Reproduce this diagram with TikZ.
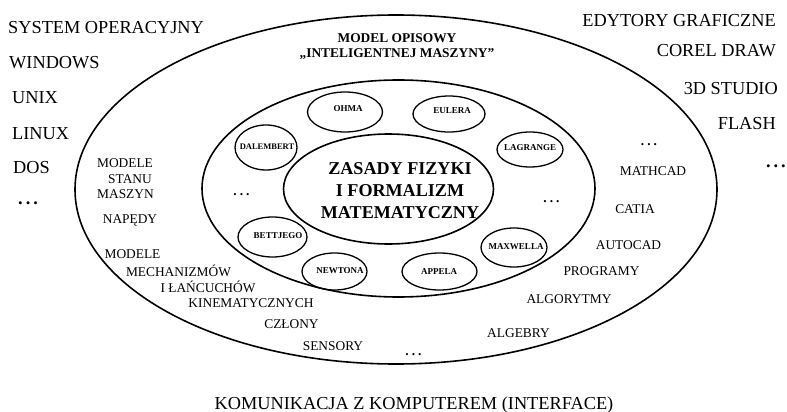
\documentclass[tikz,border=0pt]{standalone}
\usepackage{fontspec}
\setmainfont{Liberation Serif}
\usetikzlibrary{shapes.geometric}

% three spaced heavy dots standing for "and so on"
\newcommand\etcdots{\textbf{.\hspace{3pt}.\hspace{3pt}.}}

\tikzset{
  ring/.style={ellipse, draw, line width=1.6pt, inner sep=0pt},
  law/.style={ellipse, draw, line width=1.3pt, inner sep=0pt},
  lawtxt/.style={font=\bfseries\fontsize{9}{10}\selectfont, inner sep=0pt},
  bigtxt/.style={font=\fontsize{18.3}{22}\selectfont, inner sep=0pt},
  midtxt/.style={font=\fontsize{13.4}{16}\selectfont, inner sep=0pt, anchor=base},
}

\begin{document}
\begin{tikzpicture}[x=1pt, y=-1pt]
\useasboundingbox (0,0) rectangle (787,412);

% nested rings
\node[ring, minimum width=642pt, minimum height=349pt] (outer) at (396,189.5) {};
\node[ring, minimum width=393pt, minimum height=217pt] (middle) at (398.5,188.5) {};
\node[ring, minimum width=210pt, minimum height=110pt] (inner) at (388.5,189) {};

% core
\node[font=\bfseries\fontsize{18.1}{22}\selectfont, align=center, inner sep=0pt]
  (core) at (400,191) {ZASADY FIZYKI\\I FORMALIZM\\MATEMATYCZNY};

% title of the outer ring
\node[font=\bfseries\fontsize{13.4}{15}\selectfont, align=center, inner sep=0pt]
  (title) at (397,46.5) {MODEL OPISOWY\\„INTELIGENTNEJ MASZYNY”};

% laws around the core
\node[law, minimum width=75pt, minimum height=40pt] (ohma) at (345,112) {};
\node[lawtxt] (ohmat) at (348,109) {OHMA};
\node[law, minimum width=72pt, minimum height=36pt] (eulera) at (449,114) {};
\node[lawtxt] (eulerat) at (452,111) {EULERA};
\node[law, minimum width=66pt, minimum height=35pt] (lagrange) at (530,149.5) {};
\node[lawtxt] (lagranget) at (530,148) {LAGRANGE};
\node[law, minimum width=62pt, minimum height=45pt] (dalembert) at (266,147.5) {};
\node[lawtxt, font=\bfseries\fontsize{8.5}{10}\selectfont] (dalembertt) at (267,147) {DALEMBERT};
\node[law, minimum width=69pt, minimum height=40pt] (bettjego) at (272.5,237) {};
\node[lawtxt] (bettjegot) at (278,236) {BETTJEGO};
\node[law, minimum width=65pt, minimum height=37pt] (newtona) at (334.5,271.5) {};
\node[lawtxt] (newtonat) at (340,271) {NEWTONA};
\node[law, minimum width=75pt, minimum height=37pt] (appela) at (439.5,271.5) {};
\node[lawtxt] (appelat) at (439,272) {APPELA};
\node[law, minimum width=66pt, minimum height=39pt] (maxwella) at (514,247.5) {};
\node[lawtxt] (maxwellat) at (516,247) {MAXWELLA};

\node[midtxt] (dotsl) at (241.5,195) {\etcdots};
\node[midtxt] (dotsr) at (551.5,202) {\etcdots};

% middle ring, left side
\node[midtxt] (m1) at (125,167.5) {MODELE};
\node[midtxt] (m2) at (130,183.5) {STANU};
\node[midtxt] (m3) at (125.5,198.5) {MASZYN};
\node[midtxt] (m4) at (130,223.5) {NAPĘDY};
\node[midtxt] (m5) at (132.5,258.5) {MODELE};
\node[midtxt] (m6) at (178.5,276.5) {MECHANIZMÓW};
\node[midtxt] (m7) at (208,292.5) {I ŁAŃCUCHÓW};
\node[midtxt] (m8) at (251,307.5) {KINEMATYCZNYCH};
\node[midtxt] (m9) at (291.5,328.5) {CZŁONY};
\node[midtxt] (m10) at (333,350.5) {SENSORY};
\node[midtxt] (m11) at (413.5,355) {\etcdots};

% middle ring, right side
\node[midtxt] (r1) at (649,145.5) {\etcdots};
\node[midtxt] (r2) at (653,175.5) {MATHCAD};
\node[midtxt] (r3) at (635,213.5) {CATIA};
\node[midtxt] (r4) at (628.5,249.5) {AUTOCAD};
\node[midtxt] (r5) at (601.5,275.5) {PROGRAMY};
\node[midtxt] (r6) at (569,303.5) {ALGORYTMY};
\node[midtxt] (r7) at (518.5,337.5) {ALGEBRY};

% operating systems, left margin
\node[bigtxt, anchor=base west] (os) at (8,34) {SYSTEM OPERACYJNY};
\node[bigtxt, anchor=base west] (win) at (9,68) {WINDOWS};
\node[bigtxt, anchor=base west] (unix) at (12,103) {UNIX};
\node[bigtxt, anchor=base west] (linux) at (12,139) {LINUX};
\node[bigtxt, anchor=base west] (dos) at (13,173) {DOS};
\node[bigtxt, anchor=base west] (osdots) at (18,204) {\etcdots};

% graphic editors, right margin
\node[bigtxt, anchor=base east] (ed) at (776,27) {EDYTORY GRAFICZNE};
\node[bigtxt, anchor=base east] (corel) at (776,57) {COREL DRAW};
\node[bigtxt, anchor=base east] (studio) at (778,94) {3D STUDIO};
\node[bigtxt, anchor=base east] (flash) at (776,129) {FLASH};
\node[bigtxt, anchor=base east] (eddots) at (786,167) {\etcdots};

% interface
\node[bigtxt, anchor=base] (iface) at (414,409.5) {KOMUNIKACJA Z KOMPUTEREM (INTERFACE)};
\end{tikzpicture}
\end{document}
